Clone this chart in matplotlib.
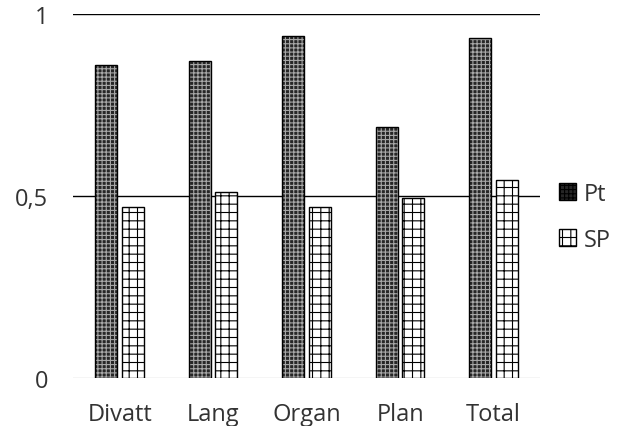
import matplotlib
matplotlib.use("Agg")
import matplotlib.pyplot as plt
from matplotlib.patches import Patch
import numpy as np

categories = ["Divatt", "Lang", "Organ", "Plan", "Total"]
pt_values = [0.86, 0.87, 0.94, 0.69, 0.935]
sp_values = [0.47, 0.51, 0.47, 0.495, 0.545]
y_ticks = [0, 0.5, 1]
y_tick_labels = ["0", "0,5", "1"]

plt.rcParams["font.family"] = ["Open Sans", "DejaVu Sans"]
plt.rcParams["hatch.linewidth"] = 0.8

fig = plt.figure(figsize=(6.29, 4.27), dpi=100)
ax = fig.add_axes([0.116, 0.112, 0.743, 0.853])

x = np.arange(len(categories))
w = 0.235
off = 0.142

# gridlines
ax.axhline(1, color="black", lw=1, zorder=0)
ax.axhline(0.5, color="black", lw=1, zorder=0)
ax.axhline(0, color="#d0d0d0", lw=1, zorder=0)

# Pt: dark fill with light dotted mesh
ax.bar(x - off, pt_values, w, color="#262626", lw=0, zorder=2)
ax.bar(x - off, pt_values, w, facecolor="none", edgecolor="#a8a8a8", hatch="++++", lw=0, zorder=3)
ax.bar(x - off, pt_values, w, facecolor="none", edgecolor="black", lw=1, zorder=4)

# SP: white with brick-like grid
ax.bar(x + off, sp_values, w, facecolor="white", edgecolor="black", hatch="++", lw=1, zorder=2)

ax.set_xlim(-0.5, len(categories) - 0.5)
ax.set_ylim(0, 1)
ax.set_xticks(x)
ax.set_xticklabels(categories)
ax.set_yticks(y_ticks)
ax.set_yticklabels(y_tick_labels)
ax.tick_params(length=0, labelsize=17, colors="#333333")
ax.tick_params(axis="x", pad=17)
ax.tick_params(axis="y", pad=18)
for s in ax.spines.values():
    s.set_visible(False)

# legend
handles = [
    Patch(facecolor="#262626", edgecolor="black", hatch="++++", label="Pt"),
    Patch(facecolor="white", edgecolor="black", hatch="++", label="SP"),
]
fig.legend(handles=handles, loc="center left", bbox_to_anchor=(0.855, 0.49),
           frameon=False, fontsize=17, handlelength=0.7, handleheight=0.7,
           labelspacing=0.95, handletextpad=0.35, labelcolor="#333333")

fig.savefig("out.png", dpi=100)
